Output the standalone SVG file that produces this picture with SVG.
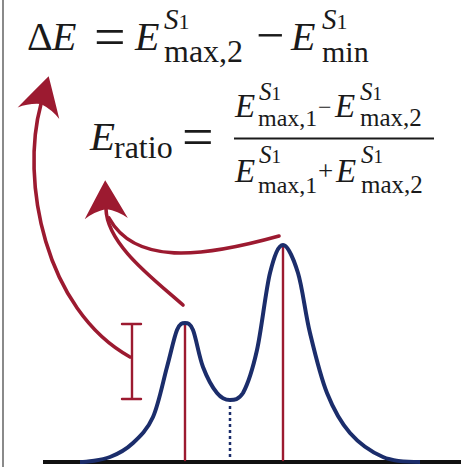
<svg xmlns="http://www.w3.org/2000/svg" width="461" height="467" viewBox="0 0 461 467">
<style>
text{font-family:"Liberation Serif","Times New Roman",serif;fill:#1a1a1a}
.it{font-style:italic}
.red{fill:none;stroke:#9c1a30;stroke-linecap:round}
.arrow{stroke-width:3.6}
.tick{stroke-width:2.4}
.blue{fill:none;stroke:#1b2d6b;stroke-width:4;stroke-linejoin:round}
</style>
<defs>
<marker id="head" markerUnits="userSpaceOnUse" markerWidth="60" markerHeight="60" refX="8" refY="0" viewBox="-5 -25 50 50" orient="auto" overflow="visible">
<path d="M 0 -18 Q 18 -8 32 0 Q 18 8 0 18 Q 6 10 8 0 Q 6 -10 0 -18 Z" fill="#9c1a30"/>
</marker>
</defs>
<line x1="3" y1="0" x2="3" y2="467" stroke="#8a8a8a" stroke-width="2"/>
<g id="formula-deltaE">
<text x="27" y="50" font-size="40">Δ</text>
<text x="52" y="50" font-size="40" class="it">E</text>
<text x="94" y="56" font-size="56">=</text>
<text x="135" y="50" font-size="40" class="it">E</text>
<text x="164" y="29" font-size="29"><tspan class="it">S</tspan><tspan font-size="22">1</tspan></text>
<text x="164" y="62" font-size="32">max,2</text>
<text x="256" y="52" font-size="50">−</text>
<text x="291" y="50" font-size="40" class="it">E</text>
<text x="322" y="29" font-size="29"><tspan class="it">S</tspan><tspan font-size="22">1</tspan></text>
<text x="322" y="62" font-size="30">min</text>
</g>
<g id="formula-ratio">
<text x="90" y="150" font-size="41" class="it">E</text>
<text x="114" y="158" font-size="32">ratio</text>
<text x="182" y="156" font-size="56">=</text>
<text x="235" y="117" font-size="33" class="it">E</text>
<text x="259" y="100" font-size="25"><tspan class="it">S</tspan><tspan font-size="19">1</tspan></text>
<text x="258" y="126" font-size="24">max,1</text>
<text x="318" y="115" font-size="24">−</text>
<text x="335" y="117" font-size="33" class="it">E</text>
<text x="360" y="100" font-size="25"><tspan class="it">S</tspan><tspan font-size="19">1</tspan></text>
<text x="360" y="126" font-size="25">max,2</text>
<line x1="234" y1="138.5" x2="434" y2="138.5" stroke="#1a1a1a" stroke-width="1.8"/>
<text x="235" y="182" font-size="33" class="it">E</text>
<text x="259" y="163" font-size="25"><tspan class="it">S</tspan><tspan font-size="19">1</tspan></text>
<text x="258" y="193" font-size="24">max,1</text>
<text x="318" y="180" font-size="27">+</text>
<text x="336" y="182" font-size="33" class="it">E</text>
<text x="361" y="163" font-size="25"><tspan class="it">S</tspan><tspan font-size="19">1</tspan></text>
<text x="361" y="193" font-size="25">max,2</text>
</g>
<g id="spectrum">
<line x1="43" y1="462" x2="461" y2="462" stroke="#111" stroke-width="4"/>
<line x1="185" y1="323" x2="185" y2="460" class="red tick"/>
<line x1="283" y1="245" x2="283" y2="460" class="red tick"/>
<line x1="230" y1="406" x2="230" y2="460" stroke="#1b2d6b" stroke-width="2.5" stroke-dasharray="3 3"/>
<path class="blue" d="M 80 462 C 86 462, 101.67 460.17, 110 457 C 118.33 453.83, 125.83 449.67, 133 443 C 140.17 436.33, 147.33 429.67, 153 417 C 158.67 404.33, 163 381.5, 167 367 C 171 352.5, 174 337.33, 177 330 C 180 323, 182.33 323, 185 323 C 187.67 323, 190 323, 193 330 C 196 337.33, 199 356.5, 203 367 C 207 377.5, 212.5 387.5, 217 393 C 221.5 398.5, 225.67 400, 230 400 C 234.33 400, 238.5 400, 243 393 C 247.5 384.67, 252.5 370, 257 350 C 261.5 330, 265.67 290.5, 270 273 C 274.33 255.5, 278.33 245, 283 245 C 287.67 245, 293.5 258.33, 298 273 C 302.5 287.67, 305.17 313, 310 333 C 314.83 353, 320.33 376.33, 327 393 C 333.67 409.67, 340.67 422.33, 350 433 C 359.33 443.67, 371.83 452.17, 383 457 C 394.17 461.83, 407.5 462, 420 462"/>
</g>
<g id="connectors">
<path class="red tick" d="M 132 324 V 399 M 122 324 H 141 M 122 399 H 141"/>
<path class="red arrow" d="M 130 357 C 45 310, 20 180, 41 104" marker-end="url(#head)"/>
<path class="red arrow" d="M 183 305 C 155 280, 107 245, 106 209" marker-end="url(#head)"/>
<path class="red arrow" d="M 279 236 C 200 258, 135 265, 109 218"/>
</g>
</svg>
